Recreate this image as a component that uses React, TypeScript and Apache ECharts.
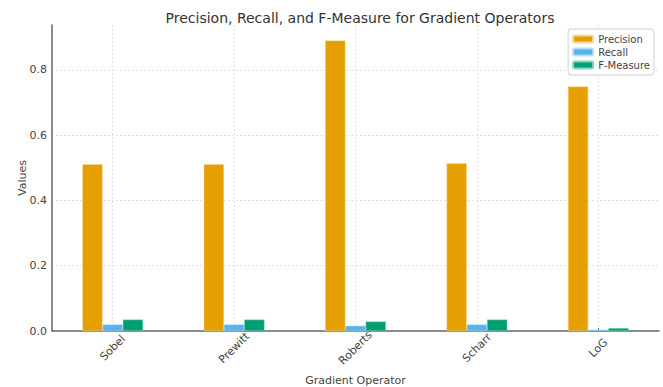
import React, { useEffect, useRef } from "react";
import * as echarts from "echarts";

const categories = ["Sobel", "Prewitt", "Roberts", "Scharr", "LoG"];
const precision = [0.511, 0.511, 0.89, 0.514, 0.749];
const recall = [0.02, 0.02, 0.016, 0.02, 0.004];
const fMeasure = [0.035, 0.035, 0.029, 0.035, 0.009];
const yTicks = [0, 0.2, 0.4, 0.6, 0.8];

const FONT = "DejaVu Sans";

export default function App() {
  const ref = useRef<HTMLDivElement>(null);
  useEffect(() => {
    if (!ref.current) return;
    const chart = echarts.init(ref.current, undefined, { renderer: "svg" });
    const gridStyle = { color: "#d9d9d9", type: [2, 2] as any, width: 0.8 };
    chart.setOption({
      animation: false,
      textStyle: { fontFamily: FONT },
      title: {
        text: "Precision, Recall, and F-Measure for Gradient Operators",
        left: 355,
        textAlign: "center",
        top: 6,
        textStyle: { fontFamily: FONT, fontSize: 14, fontWeight: "normal", color: "#333" },
      },
      legend: {
        orient: "vertical",
        right: 9,
        top: 29,
        itemWidth: 20,
        itemHeight: 7,
        itemGap: 3,
        padding: [5, 4, 5, 4],
        borderColor: "#d0d0d0",
        borderWidth: 1,
        borderRadius: 3,
        backgroundColor: "#fff",
        textStyle: { fontFamily: FONT, fontSize: 10, color: "#444" },
        data: ["Precision", "Recall", "F-Measure"],
      },
      grid: { left: 52, right: 4, top: 25, bottom: 56, containLabel: false, outerBoundsMode: "none" } as any,
      xAxis: {
        type: "category",
        data: categories,
        name: "Gradient Operator",
        nameLocation: "middle",
        nameGap: 44,
        nameMoveOverlap: false,
        nameTextStyle: { fontFamily: FONT, fontSize: 11, color: "#444" },
        axisLine: { lineStyle: { color: "#666", width: 1.5 } },
        axisTick: { show: true, inside: true, length: 3, alignWithLabel: true, lineStyle: { color: "#666", width: 1 } },
        axisLabel: {
          rotate: 45,
          align: "center",
          verticalAlign: "middle",
          margin: 17,
          fontFamily: FONT,
          fontSize: 11,
          color: "#444",
        },
        splitLine: { show: true, alignWithLabel: true, lineStyle: gridStyle } as any,
      } as any,
      yAxis: {
        type: "value",
        min: 0,
        max: 0.9375,
        interval: 0.2,
        name: "Values",
        nameLocation: "middle",
        nameGap: 24,
        nameMoveOverlap: false,
        nameTextStyle: { fontFamily: FONT, fontSize: 11, color: "#444" },
        axisLine: { show: true, lineStyle: { color: "#666", width: 1.5 } },
        axisTick: { show: false },
        axisLabel: {
          fontFamily: FONT,
          fontSize: 11,
          color: "#444",
          margin: 5,
          showMaxLabel: false,
          formatter: (v: number) => (yTicks.some((t) => Math.abs(t - v) < 1e-6) ? v.toFixed(1) : ""),
        },
        splitLine: { show: true, showMaxLine: false, showMinLine: false, lineStyle: gridStyle } as any,
      } as any,
      series: [
        {
          name: "Precision",
          type: "bar",
          data: precision,
          barGap: "0%",
          barCategoryGap: "50%",
          itemStyle: { color: "#E69F00", borderColor: "#f6d89a", borderWidth: 0.5 },
        },
        {
          name: "Recall",
          type: "bar",
          data: recall,
          itemStyle: { color: "#56B4E9", borderColor: "#b5dcf4", borderWidth: 0.5 },
        },
        {
          name: "F-Measure",
          type: "bar",
          data: fMeasure,
          itemStyle: { color: "#009E73", borderColor: "#8fd0bd", borderWidth: 0.5 },
        },
      ],
    });
    return () => chart.dispose();
  }, []);
  return <div ref={ref} style={{ width: 663, height: 387, position: "absolute", left: 0, top: 0 }} />;
}
